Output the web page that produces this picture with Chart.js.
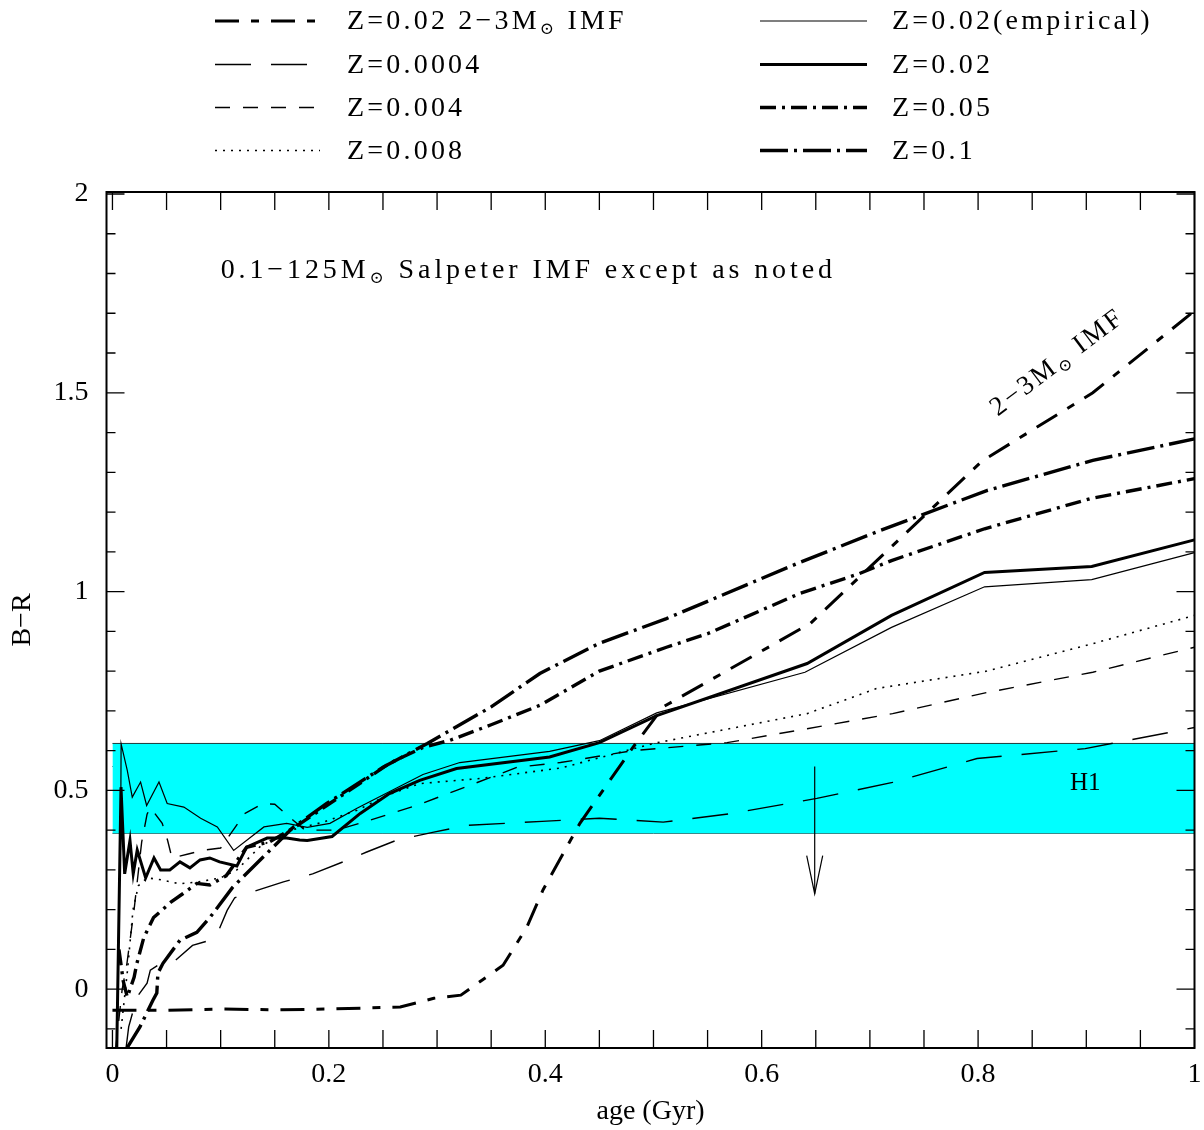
<!DOCTYPE html>
<html>
<head>
<meta charset="utf-8">
<script src="https://cdn.jsdelivr.net/npm/chart.js@4.4.0/dist/chart.umd.min.js"></script>
<style>
  html, body { margin: 0; padding: 0; background: #fff; }
  #wrap { width: 1204px; height: 1130px; }
</style>
</head>
<body>
<div id="wrap"><canvas id="chart" width="1204" height="1130"></canvas></div>
<script>
// ---- data: age (Gyr) vs B-R ----
const ageImf = [0, 0.05, 0.1, 0.15, 0.2, 0.266, 0.297, 0.322, 0.361, 0.383, 0.398, 0.432, 0.481, 0.509, 0.645, 0.804, 0.906, 1.0];
const brImf  = [-0.053, -0.053, -0.05, -0.052, -0.05, -0.045, -0.023, -0.015, 0.06, 0.156, 0.25, 0.417, 0.608, 0.71, 0.92, 1.329, 1.5, 1.706];

const age0004 = [0.0125, 0.015, 0.0226, 0.032, 0.035, 0.042, 0.055, 0.074, 0.09, 0.097, 0.106, 0.113, 0.124, 0.158, 0.185, 0.213, 0.235, 0.263, 0.297, 0.328, 0.397, 0.45, 0.509, 0.573, 0.651, 0.721, 0.799, 0.899, 1.0];
const br0004  = [-0.15, -0.095, -0.02, 0.015, 0.048, 0.06, 0.065, 0.11, 0.123, 0.14, 0.198, 0.23, 0.24, 0.27, 0.29, 0.32, 0.345, 0.375, 0.395, 0.412, 0.422, 0.43, 0.42, 0.442, 0.48, 0.52, 0.58, 0.605, 0.658];

const age004 = [0.003, 0.009, 0.0134, 0.02, 0.027, 0.032, 0.035, 0.046, 0.051, 0.055, 0.07, 0.085, 0.1, 0.116, 0.121, 0.139, 0.15, 0.167, 0.178, 0.207, 0.238, 0.281, 0.318, 0.374, 0.414, 0.481, 0.568, 0.642, 0.721, 0.808, 0.906, 1.0];
const br004  = [-0.15, 0.0, 0.065, 0.2, 0.37, 0.44, 0.457, 0.417, 0.374, 0.33, 0.34, 0.35, 0.355, 0.417, 0.44, 0.467, 0.465, 0.425, 0.40, 0.40, 0.425, 0.462, 0.50, 0.558, 0.57, 0.60, 0.62, 0.655, 0.693, 0.746, 0.797, 0.86];

const age008 = [0.008, 0.014, 0.019, 0.024, 0.032, 0.045, 0.062, 0.08, 0.1, 0.115, 0.137, 0.165, 0.195, 0.226, 0.256, 0.284, 0.34, 0.414, 0.5, 0.642, 0.706, 0.808, 0.906, 1.0];
const br008  = [-0.1, 0.05, 0.2, 0.26, 0.28, 0.275, 0.265, 0.27, 0.28, 0.30, 0.36, 0.40, 0.42, 0.45, 0.49, 0.517, 0.53, 0.556, 0.618, 0.693, 0.756, 0.80, 0.869, 0.94];

const ageEmp = [0.0075, 0.008, 0.0137, 0.0183, 0.026, 0.0316, 0.043, 0.0506, 0.066, 0.0815, 0.0969, 0.112, 0.14, 0.161, 0.18, 0.201, 0.226, 0.287, 0.321, 0.404, 0.45, 0.503, 0.64, 0.72, 0.806, 0.905, 1.0];
const brEmp  = [0.35, 0.617, 0.55, 0.483, 0.521, 0.462, 0.521, 0.467, 0.458, 0.43, 0.408, 0.349, 0.408, 0.417, 0.407, 0.417, 0.455, 0.54, 0.57, 0.598, 0.625, 0.695, 0.797, 0.91, 1.012, 1.03, 1.098];

const age002 = [0.004, 0.0079, 0.0113, 0.0162, 0.0192, 0.0229, 0.0307, 0.0384, 0.0445, 0.053, 0.0624, 0.0716, 0.081, 0.09, 0.099, 0.115, 0.124, 0.143, 0.161, 0.173, 0.18, 0.203, 0.229, 0.256, 0.284, 0.318, 0.404, 0.45, 0.503, 0.642, 0.72, 0.806, 0.905, 1.0];
const br002  = [-0.15, 0.508, 0.29, 0.374, 0.29, 0.35, 0.28, 0.33, 0.30, 0.30, 0.32, 0.305, 0.325, 0.33, 0.32, 0.31, 0.357, 0.38, 0.38, 0.375, 0.374, 0.384, 0.442, 0.492, 0.525, 0.555, 0.584, 0.62, 0.688, 0.819, 0.94, 1.048, 1.063, 1.13];

const age005 = [0.006, 0.010, 0.0137, 0.02, 0.0226, 0.029, 0.038, 0.054, 0.065, 0.078, 0.09, 0.105, 0.124, 0.145, 0.17, 0.197, 0.219, 0.256, 0.287, 0.312, 0.35, 0.395, 0.45, 0.512, 0.55, 0.635, 0.69, 0.72, 0.806, 0.904, 1.0];
const br005  = [0.1, 0.02, -0.02, 0.03, 0.065, 0.13, 0.18, 0.219, 0.24, 0.266, 0.262, 0.285, 0.357, 0.37, 0.41, 0.46, 0.50, 0.568, 0.608, 0.626, 0.665, 0.714, 0.80, 0.86, 0.894, 0.995, 1.045, 1.078, 1.158, 1.234, 1.284];

const age01 = [0.013, 0.0254, 0.0374, 0.041, 0.042, 0.0467, 0.0624, 0.078, 0.09, 0.111, 0.167, 0.198, 0.25, 0.291, 0.35, 0.395, 0.45, 0.512, 0.635, 0.709, 0.808, 0.906, 1.0];
const br01  = [-0.15, -0.095, -0.028, -0.01, 0.04, 0.065, 0.123, 0.143, 0.18, 0.256, 0.407, 0.467, 0.558, 0.618, 0.71, 0.794, 0.87, 0.932, 1.073, 1.153, 1.254, 1.33, 1.384];

// observed H1 band and upper-limit arrow
const bandAge  = [0, 1];
const bandHigh = [0.618, 0.618];
const bandMid  = [0.56, 0.56];
const bandLow  = [0.392, 0.392];
const arrowAge = [0.649, 0.649];
const arrowBR  = [0.56, 0.24];

// axes
const xTickVals = [0, 0.2, 0.4, 0.6, 0.8, 1];
const yTickVals = [0, 0.5, 1, 1.5, 2];

const FONT = "'Liberation Serif', 'DejaVu Serif', serif";
const pts = (xs, ys) => xs.map((x, i) => ({ x: x, y: ys[i] }));

// line styles (legend uses the same)
const styles = {
  imf:  { width: 3,   dash: [24, 12, 8, 12] },
  z0004:{ width: 1.4, dash: [36, 20] },
  z004: { width: 1.4, dash: [15, 13] },
  z008: { width: 1.6, dash: [2, 6] },
  emp:  { width: 1.2, dash: [] },
  z002: { width: 3,   dash: [] },
  z005: { width: 3.4, dash: [16, 6, 3, 6] },
  z01:  { width: 3.4, dash: [28, 6, 3, 6] }
};

function curve(label, xs, ys, st) {
  return {
    label: label, data: pts(xs, ys), showLine: true, fill: false,
    borderColor: '#000', borderWidth: st.width, borderDash: st.dash,
    borderCapStyle: 'butt', borderJoinStyle: 'miter',
    pointRadius: 0, tension: 0, order: 1
  };
}

const bandLine = '#1d3b3b';
const datasets = [
  { label: 'bandHigh', data: pts(bandAge, bandHigh), showLine: true, borderColor: bandLine, borderWidth: 1,
    backgroundColor: '#00ffff', fill: '+1', pointRadius: 0, order: 10 },
  { label: 'bandLow', data: pts(bandAge, bandLow), showLine: true, borderColor: bandLine, borderWidth: 1,
    fill: false, pointRadius: 0, order: 10 },
  { label: 'bandMid', data: pts(bandAge, bandMid), showLine: true, borderColor: bandLine, borderWidth: 1,
    fill: false, pointRadius: 0, order: 10 },
  { label: 'limit', data: pts(arrowAge, arrowBR), showLine: true, borderColor: '#000', borderWidth: 1.2,
    fill: false, pointRadius: 0, order: 2 },
  curve('Z=0.02 2-3M IMF', ageImf, brImf, styles.imf),
  curve('Z=0.0004', age0004, br0004, styles.z0004),
  curve('Z=0.004', age004, br004, styles.z004),
  curve('Z=0.008', age008, br008, styles.z008),
  curve('Z=0.02(empirical)', ageEmp, brEmp, styles.emp),
  curve('Z=0.02', age002, br002, styles.z002),
  curve('Z=0.05', age005, br005, styles.z005),
  curve('Z=0.1', age01, br01, styles.z01)
];

// text with a subscript sun symbol; parts: [text, isSub]
function drawRich(ctx, parts, x, y, size, spacing) {
  ctx.letterSpacing = spacing + 'px';
  let cx = x;
  parts.forEach(([t, sub]) => {
    const fs = sub ? Math.round(size * 0.62) : size;
    ctx.font = fs + 'px ' + FONT;
    ctx.fillText(t, cx, sub ? y + size * 0.28 : y);
    cx += ctx.measureText(t).width;
  });
  ctx.letterSpacing = '0px';
}

const legendRows = [
  { st: styles.imf,   parts: [['Z=0.02 2−3M'], ['⊙', true], [' IMF']], col: 0, row: 0 },
  { st: styles.z0004, parts: [['Z=0.0004']], col: 0, row: 1 },
  { st: styles.z004,  parts: [['Z=0.004']],  col: 0, row: 2 },
  { st: styles.z008,  parts: [['Z=0.008']],  col: 0, row: 3 },
  { st: styles.emp,   parts: [['Z=0.02(empirical)']], col: 1, row: 0 },
  { st: styles.z002,  parts: [['Z=0.02']], col: 1, row: 1 },
  { st: styles.z005,  parts: [['Z=0.05']], col: 1, row: 2 },
  { st: styles.z01,   parts: [['Z=0.1']],  col: 1, row: 3 }
];

const decor = {
  id: 'decor',
  afterDatasetsDraw(chart) {
    const { ctx, chartArea: a, scales: { x, y } } = chart;
    ctx.save();
    ctx.strokeStyle = '#000';
    ctx.fillStyle = '#000';

    // arrow head on the upper limit
    const tx = x.getPixelForValue(arrowAge[1]), ty = y.getPixelForValue(arrowBR[1]);
    ctx.lineWidth = 1.2;
    ctx.beginPath();
    ctx.moveTo(tx - 8, ty - 38); ctx.lineTo(tx, ty); ctx.lineTo(tx + 8, ty - 38);
    ctx.stroke();

    // inward ticks on all four sides
    ctx.lineWidth = 1.3;
    ctx.beginPath();
    for (let i = 0; i <= 20; i++) {
      const px = x.getPixelForValue(i * 0.05);
      ctx.moveTo(px, a.bottom); ctx.lineTo(px, a.bottom - 18);
      ctx.moveTo(px, a.top); ctx.lineTo(px, a.top + 18);
    }
    for (let i = -1; i <= 20; i++) {
      const py = y.getPixelForValue(i * 0.1);
      const len = (i % 5 === 0) ? 18 : 9;
      ctx.moveTo(a.left, py); ctx.lineTo(a.left + len, py);
      ctx.moveTo(a.right, py); ctx.lineTo(a.right - len, py);
    }
    ctx.stroke();

    // frame
    ctx.lineWidth = 2;
    ctx.strokeRect(a.left, a.top, a.right - a.left, a.bottom - a.top);

    // annotations
    ctx.textBaseline = 'middle';
    ctx.textAlign = 'left';
    drawRich(ctx, [['0.1−125M'], ['⊙', true], [' Salpeter IMF except as noted']],
      x.getPixelForValue(0.1), y.getPixelForValue(1.807), 28, 3.9);

    ctx.font = '25px ' + FONT;
    ctx.textAlign = 'center';
    ctx.fillText('H1', x.getPixelForValue(0.899), y.getPixelForValue(0.518));

    ctx.save();
    ctx.translate(x.getPixelForValue(0.866), y.getPixelForValue(1.56));
    ctx.rotate(-37 * Math.PI / 180);
    ctx.textAlign = 'left';
    drawRich(ctx, [['2−3M'], ['⊙', true], [' IMF']], -70, 0, 27, 2.8);
    ctx.restore();

    ctx.restore();
  },
  afterDraw(chart) {
    const ctx = chart.ctx;
    const lineX = [[215, 320], [760, 867]];
    const textX = [347, 892];
    const rowY = [21, 64.5, 107.5, 150.5];
    ctx.save();
    ctx.strokeStyle = '#000';
    ctx.fillStyle = '#000';
    ctx.textBaseline = 'middle';
    ctx.textAlign = 'left';
    legendRows.forEach(r => {
      const yy = rowY[r.row];
      ctx.lineWidth = r.st.width;
      ctx.setLineDash(r.st.dash);
      ctx.lineCap = 'butt';
      ctx.beginPath();
      ctx.moveTo(lineX[r.col][0], yy);
      ctx.lineTo(lineX[r.col][1], yy);
      ctx.stroke();
      ctx.setLineDash([]);
      drawRich(ctx, r.parts, textX[r.col], yy + 1, 28, 3.2);
    });
    ctx.restore();
  }
};

Chart.defaults.font.family = FONT;
Chart.defaults.color = '#000';

new Chart(document.getElementById('chart'), {
  type: 'scatter',
  data: { datasets: datasets },
  options: {
    responsive: false,
    devicePixelRatio: 1,
    animation: false,
    layout: { padding: { top: 192, right: 9.5, left: 0, bottom: 0 } },
    plugins: { legend: { display: false }, tooltip: { enabled: false } },
    scales: {
      x: {
        type: 'linear', min: -0.0055, max: 1.0,
        grid: { display: false, drawTicks: false }, border: { display: false },
        afterBuildTicks: s => { s.ticks = xTickVals.map(v => ({ value: v })); },
        afterFit: s => { s.height = 82; s.paddingLeft = 0; s.paddingRight = 0; },
        ticks: { font: { size: 28 }, padding: 10, maxRotation: 0, callback: v => String(v) },
        title: { display: true, text: 'age (Gyr)', font: { size: 28 }, padding: { top: 0, bottom: 2 } }
      },
      y: {
        type: 'linear', min: -0.148, max: 2.005,
        grid: { display: false, drawTicks: false }, border: { display: false },
        afterBuildTicks: s => { s.ticks = yTickVals.map(v => ({ value: v })); },
        afterFit: s => { s.width = 106.5; s.paddingTop = 0; s.paddingBottom = 0; },
        ticks: { font: { size: 28 }, padding: 18, callback: v => String(v) },
        title: { display: true, text: 'B−R', font: { size: 28 }, padding: { top: 6, bottom: 0 } }
      }
    }
  },
  plugins: [decor]
});
</script>
</body>
</html>
